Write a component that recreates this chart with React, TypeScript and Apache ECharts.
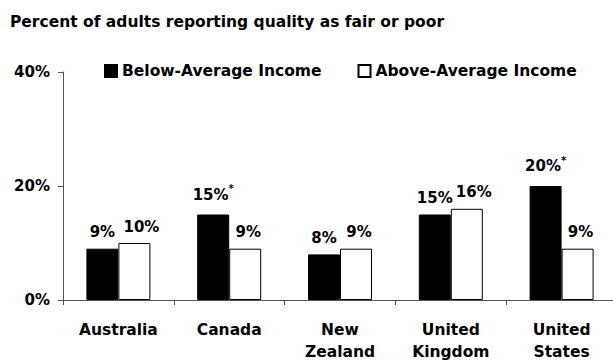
import React, { useEffect, useRef } from "react";
import * as echarts from "echarts";

const categories = ["Australia", "Canada", "New\nZealand", "United\nKingdom", "United\nStates"];
const belowAverage = [9, 15, 8, 15, 20];
const aboveAverage = [10, 9, 9, 16, 9];
const belowStar = [false, true, false, false, true];
const aboveStar = [false, false, false, false, false];
const yTicks = [0, 20, 40];

const FONT = "'DejaVu Sans', Arial, sans-serif";

export default function App() {
  const ref = useRef<HTMLDivElement>(null);
  useEffect(() => {
    if (!ref.current) return;
    const chart = echarts.init(ref.current, undefined, { renderer: "svg" });
    const richStyle = {
      v: { fontFamily: FONT, fontWeight: "bold", fontSize: 15, color: "#000" },
      s: { fontFamily: FONT, fontWeight: "bold", fontSize: 10, color: "#000", verticalAlign: "top", padding: [0, 0, 12, 0] },
    };
    const makeData = (values: number[], stars: boolean[], shiftLabels: boolean) =>
      values.map((v, i) => ({
        value: v,
        label: {
          show: true,
          position: "top" as const,
          distance: 9,
          offset: shiftLabels ? [v >= 10 ? 7 : 3, 0] : [0, 0],
          formatter: stars[i] ? `{v|${v}%}{s|*}` : `{v|${v}%}`,
          rich: richStyle,
        },
      }));
    chart.setOption({
      animation: false,
      backgroundColor: "#fff",
      title: {
        text: "Percent of adults reporting quality as fair or poor",
        left: 5,
        top: 9,
        textStyle: { fontFamily: FONT, fontWeight: "bold", fontSize: 15.5, color: "#000" },
      },
      legend: {
        top: 58,
        left: 99,
        itemGap: 36,
        itemWidth: 12,
        itemHeight: 12,
        icon: "rect",
        textStyle: { fontFamily: FONT, fontWeight: "bold", fontSize: 15.5, color: "#000" },
        data: ["Below-Average Income", "Above-Average Income"],
      },
      grid: { left: 63, right: -4, top: 72, bottom: 60, containLabel: false, outerBoundsMode: "none" },
      xAxis: {
        type: "category",
        data: categories,
        axisLine: { lineStyle: { color: "#555", width: 1 } },
        axisTick: { show: true, length: 5, lineStyle: { color: "#555" }, alignWithLabel: false },
        axisLabel: {
          fontFamily: FONT,
          fontWeight: "bold",
          fontSize: 15.5,
          color: "#000",
          margin: 19,
          lineHeight: 22,
          interval: 0,
        },
      },
      yAxis: {
        type: "value",
        min: yTicks[0],
        max: yTicks[yTicks.length - 1],
        interval: 20,
        axisLine: { show: true, lineStyle: { color: "#555", width: 1 } },
        axisTick: { show: true, length: 5, inside: false, lineStyle: { color: "#555" } },
        splitLine: { show: false },
        axisLabel: {
          formatter: "{value}%",
          fontFamily: FONT,
          fontWeight: "bold",
          fontSize: 15,
          color: "#000",
          margin: 13,
        },
      },
      series: [
        {
          name: "Below-Average Income",
          type: "bar",
          data: makeData(belowAverage, belowStar, false),
          barWidth: 32,
          barGap: "0%",
          itemStyle: { color: "#000", borderColor: "#000", borderWidth: 1 },
        },
        {
          name: "Above-Average Income",
          type: "bar",
          data: makeData(aboveAverage, aboveStar, true),
          barWidth: 32,
          itemStyle: { color: "#fff", borderColor: "#000", borderWidth: 1 },
        },
      ],
    });
    return () => chart.dispose();
  }, []);
  return <div ref={ref} style={{ width: 613, height: 360, position: "absolute", left: 0, top: 0 }} />;
}
